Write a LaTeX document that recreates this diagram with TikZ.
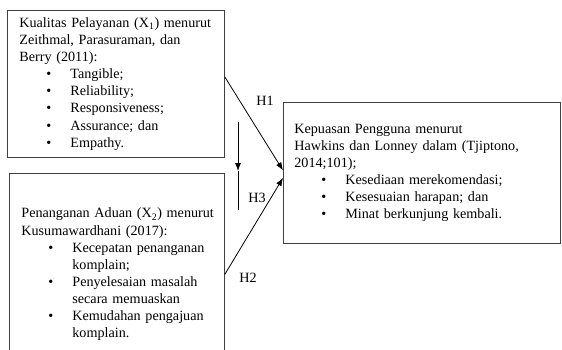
\documentclass[tikz,border=0pt]{standalone}
\usepackage{fontspec}
\setmainfont{Liberation Serif}
\usetikzlibrary{arrows.meta,positioning}
\setlength{\parindent}{0pt}
\hyphenpenalty=10000
\newcommand{\bitem}[1]{\par\hangindent=51pt\hangafter=0\noindent\llap{\textbullet\hspace{19pt}}#1}

\begin{document}
\begin{tikzpicture}[
  x=1pt, y=-1pt,
  box/.style={draw=black!75, line width=0.8pt, anchor=north west, inner xsep=12pt, inner ysep=3pt, align=left, font=\fontsize{14.15pt}{17.1pt}\selectfont},
  lbl/.style={font=\fontsize{14.15pt}{17pt}\selectfont, inner sep=0pt},
  arr/.style={-{Latex[length=8pt,width=6pt]}, line width=0.8pt}
]
\useasboundingbox (0,0) rectangle (562,349);
\clip (0,0) rectangle (562,349);
\node[box, text width=193pt, minimum height=147pt] (kualitas) at (7,10) {\mbox{Kualitas Pelayanan (X\textsubscript{1}) menurut}\\Zeithmal, Parasuraman, dan\\Berry (2011):
  \bitem{Tangible;}\bitem{Reliability;}\bitem{Responsiveness;}\bitem{Assurance; dan}\bitem{Empathy.}\par};
\node[box, text width=191pt, minimum height=202pt] (aduan) at (9,173) {\mbox{Penanganan Aduan (X\textsubscript{2}) menurut}\\Kusumawardhani (2017):
  \bitem{Kecepatan penanganan\newline komplain;}\bitem{Penyelesaian masalah\newline secara memuaskan}\bitem{Kemudahan pengajuan\newline komplain.}\par};
\node[box, inner xsep=11pt, text width=255pt, minimum height=141pt] (kepuasan) at (283,102) {Kepuasan Pengguna menurut\\\mbox{Hawkins dan Lonney dalam (Tjiptono,}\\2014;101);
  \bitem{Kesediaan merekomendasi;}\bitem{Kesesuaian harapan; dan}\bitem{Minat berkunjung kembali.}\par};
\draw[arr] ([yshift=7pt]kualitas.east) -- ([yshift=2.5pt]kepuasan.west);
\draw[arr] (aduan.east) -- ([yshift=-5pt]kepuasan.west);
% moderating arrow
\coordinate (vtop) at (238,122);
\coordinate (vmid) at (238,171);
\coordinate (vbot) at (238,210);
\draw[arr] (vtop) -- (vmid);
\draw[line width=0.8pt] (vmid) -- (vbot);
\node[lbl] (h1) at (265,101) {H1};
\node[lbl] (h3) at (257,198) {H3};
\node[lbl] (h2) at (248,278) {H2};
\end{tikzpicture}
\end{document}
